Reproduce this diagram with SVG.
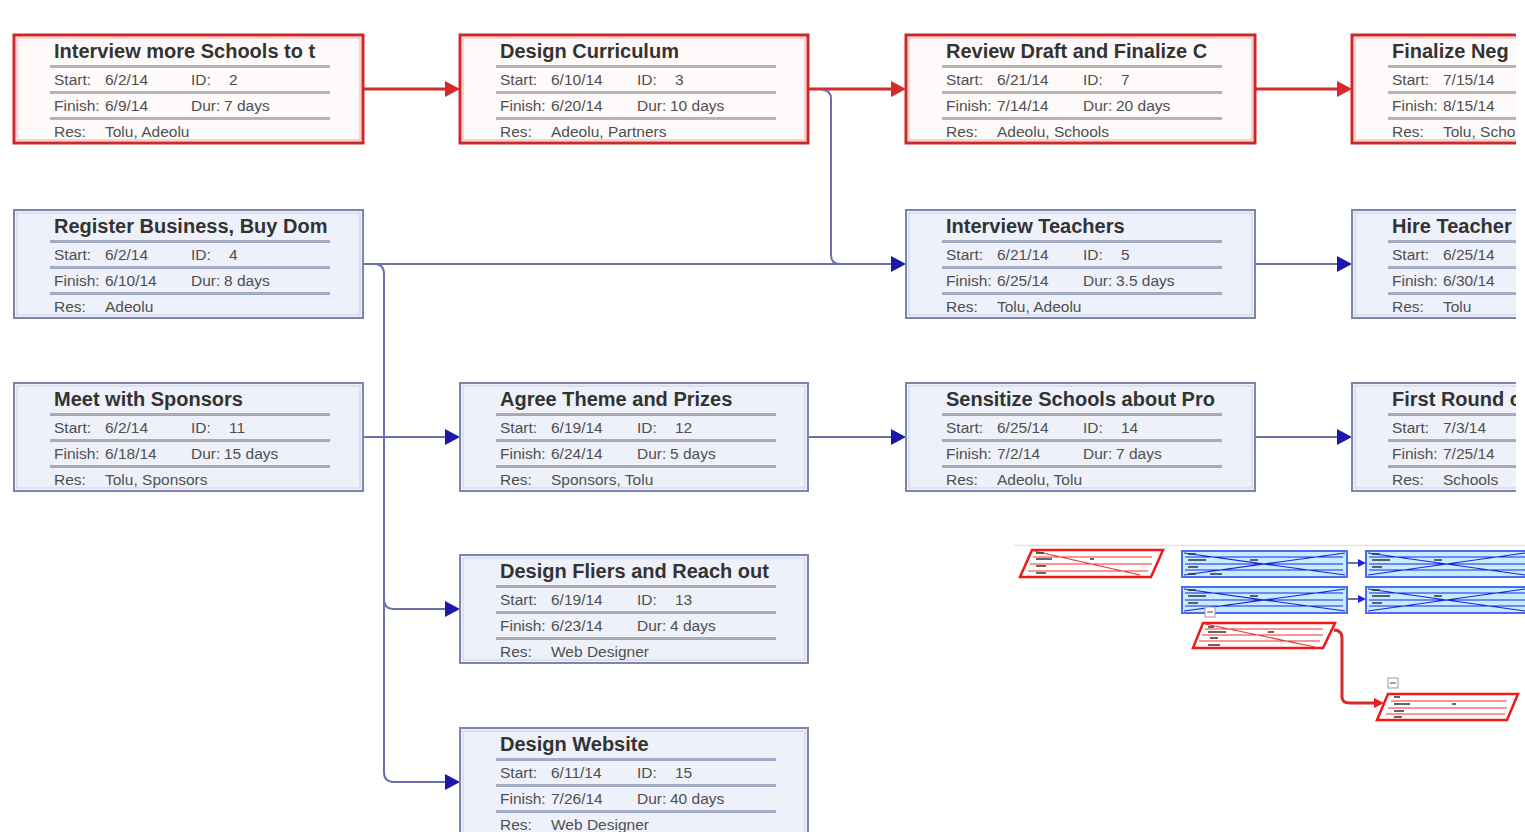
<svg xmlns="http://www.w3.org/2000/svg" width="1525" height="832" viewBox="0 0 1525 832">
<style>
.t{font-family:"Liberation Sans",Arial,sans-serif;font-weight:bold;font-size:20px;fill:#333}
.b{font-family:"Liberation Sans",Arial,sans-serif;font-size:15.5px;fill:#4f4f4f}
.rb{fill:#fffafa;stroke:#cc2a2a;stroke-width:3}
.ri{fill:none;stroke:#f2a8a8;stroke-width:1}
.bb{fill:#eef1fa;stroke:#7f85a8;stroke-width:2}
.bi{fill:none;stroke:#c8cfee;stroke-width:1}
.sep{stroke:#6a6a6a;stroke-width:1.2;fill:none}
.sr{stroke:#f0a0a0;stroke-width:1;fill:none}
.sb{stroke:#98a4dc;stroke-width:1;fill:none}
.cr{stroke:#d42a2a;stroke-width:3;fill:none}
.cb{stroke:#6a70a8;stroke-width:2;fill:none}
.ar{fill:#d42a2a}
.ab{fill:#1a1aa6}
.mr{fill:#fff;stroke:#f01818;stroke-width:2.5}
.mrl{stroke:#f03030;stroke-width:1.2;fill:none}
.mb{fill:#c4eeff;stroke:#4a6cf0;stroke-width:2}
.mbl{stroke:#2020e0;stroke-width:1.2;fill:none}
.mk{stroke:#333;stroke-width:1.5;fill:none}
</style>
<defs>
<clipPath id="tclip" clipPathUnits="userSpaceOnUse"><rect x="0" y="0" width="314" height="40"/></clipPath>
<clipPath id="c4" clipPathUnits="userSpaceOnUse"><rect x="-5" y="-5" width="169" height="125"/></clipPath>
</defs>
<rect width="1525" height="832" fill="#fff"/>

<g id="connectors">
<path class="cr" d="M363 89H446"/><polygon class="ar" points="460,89 445,81 445,97"/>
<path class="cr" d="M808 89H892"/><polygon class="ar" points="906,89 891,81 891,97"/>
<path class="cr" d="M1255 89H1338"/><polygon class="ar" points="1352,89 1337,81 1337,97"/>
<path class="cb" d="M822 90Q831 90 831 99V255Q831 264 840 264"/>
<path class="cb" d="M363 264H892"/><polygon class="ab" points="906,264 891,256 891,272"/>
<path class="cb" d="M374 264Q384 264 384 274V772Q384 782 394 782H446"/><polygon class="ab" points="460,782 445,774 445,790"/>
<path class="cb" d="M384 599Q384 609 394 609H446"/><polygon class="ab" points="460,609 445,601 445,617"/>
<path class="cb" d="M363 437H446"/><polygon class="ab" points="460,437 445,429 445,445"/>
<path class="cb" d="M1255 264H1338"/><polygon class="ab" points="1352,264 1337,256 1337,272"/>
<path class="cb" d="M808 437H892"/><polygon class="ab" points="906,437 891,429 891,445"/>
<path class="cb" d="M1255 437H1338"/><polygon class="ab" points="1352,437 1337,429 1337,445"/>
</g>

<g id="n2" transform="translate(14,35)">
<rect class="rb" width="349" height="108"/><rect class="ri" x="3" y="3" width="343" height="102"/>
<text class="t" x="40" y="23" clip-path="url(#tclip)">Interview more Schools to t</text>
<path class="sep" d="M36 31H316M36 57H316M36 83H316"/><path class="sr" d="M36 32.5H316M36 58.5H316M36 84.5H316"/>
<text class="b" y="50"><tspan x="40">Start:</tspan><tspan x="91">6/2/14</tspan><tspan x="177">ID:</tspan><tspan x="215">2</tspan></text>
<text class="b" y="76"><tspan x="40">Finish:</tspan><tspan x="91">6/9/14</tspan><tspan x="177">Dur:</tspan><tspan x="210">7 days</tspan></text>
<text class="b" y="102"><tspan x="40">Res:</tspan><tspan x="91">Tolu, Adeolu</tspan></text>
</g>

<g id="n3" transform="translate(460,35)">
<rect class="rb" width="348" height="108"/><rect class="ri" x="3" y="3" width="342" height="102"/>
<text class="t" x="40" y="23">Design Curriculum</text>
<path class="sep" d="M36 31H316M36 57H316M36 83H316"/><path class="sr" d="M36 32.5H316M36 58.5H316M36 84.5H316"/>
<text class="b" y="50"><tspan x="40">Start:</tspan><tspan x="91">6/10/14</tspan><tspan x="177">ID:</tspan><tspan x="215">3</tspan></text>
<text class="b" y="76"><tspan x="40">Finish:</tspan><tspan x="91">6/20/14</tspan><tspan x="177">Dur:</tspan><tspan x="210">10 days</tspan></text>
<text class="b" y="102"><tspan x="40">Res:</tspan><tspan x="91">Adeolu, Partners</tspan></text>
</g>

<g id="n7" transform="translate(906,35)">
<rect class="rb" width="349" height="108"/><rect class="ri" x="3" y="3" width="343" height="102"/>
<text class="t" x="40" y="23" clip-path="url(#tclip)">Review Draft and Finalize C</text>
<path class="sep" d="M36 31H316M36 57H316M36 83H316"/><path class="sr" d="M36 32.5H316M36 58.5H316M36 84.5H316"/>
<text class="b" y="50"><tspan x="40">Start:</tspan><tspan x="91">6/21/14</tspan><tspan x="177">ID:</tspan><tspan x="215">7</tspan></text>
<text class="b" y="76"><tspan x="40">Finish:</tspan><tspan x="91">7/14/14</tspan><tspan x="177">Dur:</tspan><tspan x="210">20 days</tspan></text>
<text class="b" y="102"><tspan x="40">Res:</tspan><tspan x="91">Adeolu, Schools</tspan></text>
</g>

<g id="n-finalize" transform="translate(1352,35)" clip-path="url(#c4)">
<rect class="rb" width="349" height="108"/><rect class="ri" x="3" y="3" width="343" height="102"/>
<text class="t" x="40" y="23">Finalize Neg</text>
<path class="sep" d="M36 31H316M36 57H316M36 83H316"/><path class="sr" d="M36 32.5H316M36 58.5H316M36 84.5H316"/>
<text class="b" y="50"><tspan x="40">Start:</tspan><tspan x="91">7/15/14</tspan></text>
<text class="b" y="76"><tspan x="40">Finish:</tspan><tspan x="91">8/15/14</tspan></text>
<text class="b" y="102"><tspan x="40">Res:</tspan><tspan x="91">Tolu, Scho</tspan></text>
</g>

<g id="n4" transform="translate(14,210)">
<rect class="bb" width="349" height="108"/><rect class="bi" x="3" y="3" width="343" height="102"/>
<text class="t" x="40" y="23" clip-path="url(#tclip)">Register Business, Buy Dom</text>
<path class="sep" d="M36 31H316M36 57H316M36 83H316"/><path class="sb" d="M36 32.5H316M36 58.5H316M36 84.5H316"/>
<text class="b" y="50"><tspan x="40">Start:</tspan><tspan x="91">6/2/14</tspan><tspan x="177">ID:</tspan><tspan x="215">4</tspan></text>
<text class="b" y="76"><tspan x="40">Finish:</tspan><tspan x="91">6/10/14</tspan><tspan x="177">Dur:</tspan><tspan x="210">8 days</tspan></text>
<text class="b" y="102"><tspan x="40">Res:</tspan><tspan x="91">Adeolu</tspan></text>
</g>

<g id="n5" transform="translate(906,210)">
<rect class="bb" width="349" height="108"/><rect class="bi" x="3" y="3" width="343" height="102"/>
<text class="t" x="40" y="23">Interview Teachers</text>
<path class="sep" d="M36 31H316M36 57H316M36 83H316"/><path class="sb" d="M36 32.5H316M36 58.5H316M36 84.5H316"/>
<text class="b" y="50"><tspan x="40">Start:</tspan><tspan x="91">6/21/14</tspan><tspan x="177">ID:</tspan><tspan x="215">5</tspan></text>
<text class="b" y="76"><tspan x="40">Finish:</tspan><tspan x="91">6/25/14</tspan><tspan x="177">Dur:</tspan><tspan x="210">3.5 days</tspan></text>
<text class="b" y="102"><tspan x="40">Res:</tspan><tspan x="91">Tolu, Adeolu</tspan></text>
</g>

<g id="n-hire" transform="translate(1352,210)" clip-path="url(#c4)">
<rect class="bb" width="349" height="108"/><rect class="bi" x="3" y="3" width="343" height="102"/>
<text class="t" x="40" y="23">Hire Teacher</text>
<path class="sep" d="M36 31H316M36 57H316M36 83H316"/><path class="sb" d="M36 32.5H316M36 58.5H316M36 84.5H316"/>
<text class="b" y="50"><tspan x="40">Start:</tspan><tspan x="91">6/25/14</tspan></text>
<text class="b" y="76"><tspan x="40">Finish:</tspan><tspan x="91">6/30/14</tspan></text>
<text class="b" y="102"><tspan x="40">Res:</tspan><tspan x="91">Tolu</tspan></text>
</g>

<g id="n11" transform="translate(14,383)">
<rect class="bb" width="349" height="108"/><rect class="bi" x="3" y="3" width="343" height="102"/>
<text class="t" x="40" y="23">Meet with Sponsors</text>
<path class="sep" d="M36 31H316M36 57H316M36 83H316"/><path class="sb" d="M36 32.5H316M36 58.5H316M36 84.5H316"/>
<text class="b" y="50"><tspan x="40">Start:</tspan><tspan x="91">6/2/14</tspan><tspan x="177">ID:</tspan><tspan x="215">11</tspan></text>
<text class="b" y="76"><tspan x="40">Finish:</tspan><tspan x="91">6/18/14</tspan><tspan x="177">Dur:</tspan><tspan x="210">15 days</tspan></text>
<text class="b" y="102"><tspan x="40">Res:</tspan><tspan x="91">Tolu, Sponsors</tspan></text>
</g>

<g id="n12" transform="translate(460,383)">
<rect class="bb" width="348" height="108"/><rect class="bi" x="3" y="3" width="342" height="102"/>
<text class="t" x="40" y="23">Agree Theme and Prizes</text>
<path class="sep" d="M36 31H316M36 57H316M36 83H316"/><path class="sb" d="M36 32.5H316M36 58.5H316M36 84.5H316"/>
<text class="b" y="50"><tspan x="40">Start:</tspan><tspan x="91">6/19/14</tspan><tspan x="177">ID:</tspan><tspan x="215">12</tspan></text>
<text class="b" y="76"><tspan x="40">Finish:</tspan><tspan x="91">6/24/14</tspan><tspan x="177">Dur:</tspan><tspan x="210">5 days</tspan></text>
<text class="b" y="102"><tspan x="40">Res:</tspan><tspan x="91">Sponsors, Tolu</tspan></text>
</g>

<g id="n14" transform="translate(906,383)">
<rect class="bb" width="349" height="108"/><rect class="bi" x="3" y="3" width="343" height="102"/>
<text class="t" x="40" y="23" clip-path="url(#tclip)">Sensitize Schools about Pro</text>
<path class="sep" d="M36 31H316M36 57H316M36 83H316"/><path class="sb" d="M36 32.5H316M36 58.5H316M36 84.5H316"/>
<text class="b" y="50"><tspan x="40">Start:</tspan><tspan x="91">6/25/14</tspan><tspan x="177">ID:</tspan><tspan x="215">14</tspan></text>
<text class="b" y="76"><tspan x="40">Finish:</tspan><tspan x="91">7/2/14</tspan><tspan x="177">Dur:</tspan><tspan x="210">7 days</tspan></text>
<text class="b" y="102"><tspan x="40">Res:</tspan><tspan x="91">Adeolu, Tolu</tspan></text>
</g>

<g id="n-firstround" transform="translate(1352,383)" clip-path="url(#c4)">
<rect class="bb" width="349" height="108"/><rect class="bi" x="3" y="3" width="343" height="102"/>
<text class="t" x="40" y="23">First Round c</text>
<path class="sep" d="M36 31H316M36 57H316M36 83H316"/><path class="sb" d="M36 32.5H316M36 58.5H316M36 84.5H316"/>
<text class="b" y="50"><tspan x="40">Start:</tspan><tspan x="91">7/3/14</tspan></text>
<text class="b" y="76"><tspan x="40">Finish:</tspan><tspan x="91">7/25/14</tspan></text>
<text class="b" y="102"><tspan x="40">Res:</tspan><tspan x="91">Schools</tspan></text>
</g>

<g id="n13" transform="translate(460,555)">
<rect class="bb" width="348" height="108"/><rect class="bi" x="3" y="3" width="342" height="102"/>
<text class="t" x="40" y="23">Design Fliers and Reach out</text>
<path class="sep" d="M36 31H316M36 57H316M36 83H316"/><path class="sb" d="M36 32.5H316M36 58.5H316M36 84.5H316"/>
<text class="b" y="50"><tspan x="40">Start:</tspan><tspan x="91">6/19/14</tspan><tspan x="177">ID:</tspan><tspan x="215">13</tspan></text>
<text class="b" y="76"><tspan x="40">Finish:</tspan><tspan x="91">6/23/14</tspan><tspan x="177">Dur:</tspan><tspan x="210">4 days</tspan></text>
<text class="b" y="102"><tspan x="40">Res:</tspan><tspan x="91">Web Designer</tspan></text>
</g>

<g id="n15" transform="translate(460,728)">
<rect class="bb" width="348" height="108"/><rect class="bi" x="3" y="3" width="342" height="102"/>
<text class="t" x="40" y="23">Design Website</text>
<path class="sep" d="M36 31H316M36 57H316M36 83H316"/><path class="sb" d="M36 32.5H316M36 58.5H316M36 84.5H316"/>
<text class="b" y="50"><tspan x="40">Start:</tspan><tspan x="91">6/11/14</tspan><tspan x="177">ID:</tspan><tspan x="215">15</tspan></text>
<text class="b" y="76"><tspan x="40">Finish:</tspan><tspan x="91">7/26/14</tspan><tspan x="177">Dur:</tspan><tspan x="210">40 days</tspan></text>
<text class="b" y="102"><tspan x="40">Res:</tspan><tspan x="91">Web Designer</tspan></text>
</g>

<g id="minimap">
<path d="M1013 545.5H1525" stroke="#e4e4e4" stroke-width="1.5"/>
<polygon class="mr" points="1032,550 1163,550 1151,577 1020,577"/>
<path class="mrl" d="M1033 557H1152M1030 564H1152M1028 571H1148M1034 551L1140 575"/>
<path class="mk" d="M1036 553H1044M1036 559H1052M1090 559H1094M1036 566H1046M1036 573H1046"/>
<rect class="mb" x="1182" y="551" width="165" height="26"/>
<rect class="mb" x="1366" y="551" width="165" height="26"/>
<rect class="mb" x="1182" y="587" width="165" height="26"/>
<rect class="mb" x="1366" y="587" width="165" height="26"/>
<path class="mbl" d="M1184 553L1345 575M1184 575L1345 553M1185 557H1343M1185 564H1343M1185 570H1343M1368 553L1525 575M1368 575L1525 553M1369 557H1525M1369 564H1525M1369 570H1525M1184 589L1345 611M1184 611L1345 589M1185 593H1343M1185 600H1343M1185 606H1343M1368 589L1525 611M1368 611L1525 589M1369 593H1525M1369 600H1525M1369 606H1525"/>
<path class="mk" d="M1188 554H1196M1188 560H1206M1250 560H1258M1188 567H1198M1188 574H1196M1210 574H1222M1372 554H1380M1372 560H1390M1434 560H1442M1372 567H1382M1188 590H1196M1188 596H1206M1250 596H1258M1188 603H1198M1372 590H1380M1372 596H1390M1434 596H1442M1372 603H1382"/>
<path class="cb" d="M1347 563H1359M1347 599H1359" stroke="#2020e0"/>
<polygon points="1366,563 1358,559 1358,567" fill="#2020e0"/>
<polygon points="1366,599 1358,595 1358,603" fill="#2020e0"/>
<rect x="1205" y="607" width="10" height="10" fill="#fff" stroke="#999" stroke-width="1"/>
<path d="M1207 612H1213" stroke="#444" stroke-width="1"/>
<polygon class="mr" points="1203,623 1335,623 1323,648 1193,648"/>
<path class="mrl" d="M1205 629H1323M1202 635H1323M1199 641H1320M1205 624L1315 647"/>
<path class="mk" d="M1208 627H1214M1208 632H1226M1268 632H1274M1210 638H1218M1208 645H1220"/>
<path class="cr" d="M1334 630Q1342 630 1342 638V697Q1342 703 1350 703H1376" stroke="#f01818"/>
<polygon points="1384,703 1374,698 1374,708" fill="#f01818"/>
<rect x="1388" y="678" width="10" height="10" fill="#fff" stroke="#999" stroke-width="1"/>
<path d="M1390 683H1396" stroke="#444" stroke-width="1"/>
<polygon class="mr" points="1388,694 1518,694 1507,720 1377,720"/>
<path class="mrl" d="M1391 701H1507M1388 708H1507M1386 714H1505"/>
<path class="mk" d="M1394 697H1400M1394 704H1410M1452 704H1456M1394 711H1404M1394 717H1402"/>
</g>
</svg>
